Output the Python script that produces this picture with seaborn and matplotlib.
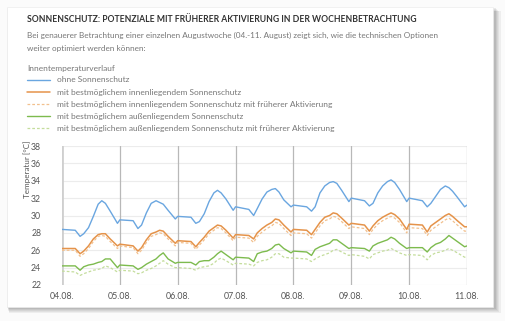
import numpy as np
import pandas as pd
import seaborn as sns
import matplotlib
matplotlib.use("Agg")
import matplotlib.pyplot as plt
from matplotlib.patches import Rectangle

# ---------------- data ----------------
day_labels = ["04.08.", "05.08.", "06.08.", "07.08.", "08.08.", "09.08.", "10.08.", "11.08."]
hours_of_day = [0, 5.5, 7.5, 9, 11, 13, 15, 16.5, 18, 20, 23]
n_days = 7
time_days = [d + h / 24 for d in range(n_days) for h in hours_of_day] + [7.0]

ohne = [28.4, 28.3, 27.6, 27.9, 28.6, 29.9, 31.3, 31.7, 31.4, 30.5, 29.1,
        29.5, 29.4, 28.5, 28.9, 30.3, 31.4, 31.7, 31.5, 31.3, 30.6, 29.6,
        29.9, 29.8, 29.1, 29.3, 30.2, 31.6, 32.6, 32.9, 32.6, 31.9, 30.6,
        31.0, 30.7, 30.0, 30.8, 31.9, 32.7, 33.0, 33.1, 32.7, 31.8, 31.0,
        31.2, 31.0, 30.5, 31.0, 32.6, 33.4, 33.8, 33.9, 33.7, 32.9, 31.6,
        32.0, 31.7, 31.1, 31.4, 32.6, 33.4, 33.9, 34.1, 33.8, 33.0, 31.6,
        32.0, 31.7, 31.0, 31.4, 32.2, 33.0, 33.4, 33.2, 32.8, 32.1, 31.0,
        31.2]

innen = [26.2, 26.2, 25.6, 25.9, 26.5, 27.3, 27.8, 27.9, 27.9, 27.3, 26.5,
         26.7, 26.5, 25.9, 26.3, 27.2, 27.9, 28.1, 28.3, 28.2, 27.6, 26.8,
         27.1, 27.0, 26.4, 26.9, 27.5, 28.2, 28.6, 28.9, 28.8, 28.3, 27.4,
         27.8, 27.7, 27.3, 28.0, 28.5, 28.9, 29.2, 29.6, 29.5, 28.9, 28.1,
         28.4, 28.3, 27.8, 28.4, 29.2, 29.8, 30.0, 30.3, 30.2, 29.7, 28.9,
         29.1, 28.9, 28.2, 28.8, 29.4, 29.8, 30.1, 30.3, 30.1, 29.6, 28.4,
         29.0, 28.9, 28.1, 28.8, 29.2, 29.6, 30.0, 30.2, 29.9, 29.4, 28.7,
         28.7]

innen_frueh = [26.0, 26.0, 25.3, 25.6, 26.2, 27.0, 27.6, 27.7, 27.6, 27.0, 26.2,
               26.5, 26.3, 25.6, 26.0, 26.9, 27.6, 27.8, 28.0, 27.9, 27.3, 26.5,
               26.9, 26.8, 26.1, 26.6, 27.2, 27.9, 28.3, 28.6, 28.5, 28.0, 27.1,
               27.5, 27.4, 26.9, 27.6, 28.1, 28.5, 28.8, 29.2, 29.1, 28.5, 27.7,
               28.0, 27.9, 27.4, 28.0, 28.8, 29.4, 29.6, 29.9, 29.8, 29.3, 28.5,
               28.7, 28.5, 27.8, 28.4, 29.0, 29.4, 29.7, 29.9, 29.7, 29.2, 28.0,
               28.6, 28.5, 27.7, 28.3, 28.7, 29.1, 29.5, 29.7, 29.4, 28.9, 28.2,
               28.2]

aussen = [24.2, 24.2, 23.7, 24.1, 24.3, 24.4, 24.6, 24.7, 25.0, 25.0, 24.0,
          24.3, 24.2, 23.8, 24.0, 24.4, 24.7, 25.0, 25.4, 25.7, 25.0, 24.5,
          24.6, 24.6, 24.3, 24.7, 24.8, 24.8, 25.2, 25.6, 25.9, 25.5, 24.9,
          25.2, 25.1, 24.7, 25.6, 25.8, 25.9, 26.2, 26.6, 26.7, 26.2, 25.7,
          25.9, 25.8, 25.4, 26.1, 26.4, 26.6, 26.8, 27.2, 27.2, 26.8, 26.2,
          26.3, 26.2, 25.9, 26.5, 26.8, 27.0, 27.2, 27.5, 27.3, 26.8, 26.2,
          26.3, 26.3, 25.8, 26.3, 26.7, 26.9, 27.3, 27.7, 27.4, 27.0, 26.4,
          26.5]

aussen_frueh = [23.6, 23.5, 23.1, 23.3, 23.5, 23.7, 23.8, 23.9, 24.2, 24.0, 23.5,
                23.7, 23.6, 23.3, 23.4, 23.7, 23.9, 24.2, 24.5, 24.8, 24.4, 24.0,
                24.0, 23.9, 23.7, 24.0, 24.1, 24.2, 24.5, 24.9, 25.1, 24.8, 24.3,
                24.5, 24.4, 24.2, 24.6, 24.8, 24.9, 25.2, 25.6, 25.6, 25.2, 25.1,
                25.1, 25.0, 24.7, 25.0, 25.3, 25.5, 25.7, 26.0, 26.1, 25.8, 25.4,
                25.5, 25.3, 25.0, 25.5, 25.7, 25.9, 26.0, 26.2, 26.0, 25.7, 25.4,
                25.5, 25.4, 24.9, 25.4, 25.7, 25.8, 26.0, 26.2, 26.0, 25.7, 25.2,
                25.2]

series_names = [
    "ohne Sonnenschutz",
    "mit bestmöglichem innenliegendem Sonnenschutz",
    "mit bestmöglichem innenliegendem Sonnenschutz mit früherer Aktivierung",
    "mit bestmöglichem außenliegendem Sonnenschutz",
    "mit bestmöglichem außenliegendem Sonnenschutz mit früherer Aktivierung",
]
series_values = [ohne, innen, innen_frueh, aussen, aussen_frueh]

# ---------------- style ----------------
sns.set_theme(style="white")
plt.rcParams["font.family"] = ["Lato", "DejaVu Sans"]

colors = ["#6aa6e0", "#e5934a", "#f2c08e", "#7dbb4e", "#c4dd9c"]
styles = ["-", "-", (0, (2.2, 1.6)), "-", (0, (2.2, 1.6))]
widths = [1.0, 1.1, 0.9, 1.0, 0.9]

W, H = 506, 321
fig = plt.figure(figsize=(W / 100, H / 100), dpi=100)
fig.patch.set_facecolor("#fbfbfb")

# card with soft shadow
cx0, cy0, cx1, cy1 = 7, 7, 493, 307
for i, a in enumerate([0.05, 0.05, 0.05, 0.06, 0.07, 0.08]):
    off = 6 - i
    fig.add_artist(Rectangle(((cx0 + off * 0.3) / W, 1 - (cy1 + off) / H),
                             (cx1 - cx0 + off) / W, (cy1 - cy0 + off * 0.3) / H,
                             transform=fig.transFigure, facecolor="#000000",
                             alpha=a, edgecolor="none", zorder=0))
fig.add_artist(Rectangle((cx0 / W, 1 - cy1 / H), (cx1 - cx0) / W, (cy1 - cy0) / H,
                         transform=fig.transFigure, facecolor="white",
                         edgecolor="#ededed", linewidth=0.5, zorder=1))

# texts
fig.text(27 / W, 1 - 20 / H, "SONNENSCHUTZ: POTENZIALE MIT FRÜHERER AKTIVIERUNG IN DER WOCHENBETRACHTUNG",
         fontsize=6.25, fontweight="bold", color="#333333", va="center", ha="left", zorder=3)
fig.text(27 / W, 1 - 35 / H,
         "Bei genauerer Betrachtung einer einzelnen Augustwoche (04.-11. August) zeigt sich, wie die technischen Optionen",
         fontsize=5.9, color="#777777", va="center", ha="left", zorder=3)
fig.text(27 / W, 1 - 48 / H, "weiter optimiert werden können:",
         fontsize=5.9, color="#777777", va="center", ha="left", zorder=3)

# axes
ax_l, ax_r, ax_t, ax_b = 62, 467, 146, 285
ax = fig.add_axes([ax_l / W, 1 - ax_b / H, (ax_r - ax_l) / W, (ax_b - ax_t) / H])
ax.set_facecolor("none")
ax.set_zorder(3)

df = pd.DataFrame({"t": time_days})
for name, vals in zip(series_names, series_values):
    df[name] = vals
long = df.melt(id_vars="t", var_name="Serie", value_name="Temperatur")

for name, c, ls, lw in zip(series_names, colors, styles, widths):
    sub = long[long["Serie"] == name]
    sns.lineplot(data=sub, x="t", y="Temperatur", ax=ax, color=c, linestyle=ls,
                 linewidth=lw, label=name, legend=False, zorder=4)

ax.set_xlim(0, 7)
ax.set_ylim(22, 38)
yticks = list(range(22, 39, 2))
ax.set_yticks(yticks)
ax.set_yticklabels([str(v) for v in yticks])
ax.set_xticks(range(8))
ax.set_xticklabels(day_labels)
for y in yticks:
    ax.axhline(y, color="#ececec", linewidth=0.8, zorder=1)
for d in range(8):
    ax.axvline(d, color="#cfcfcf" if d == 0 else "#b8b8b8",
               linewidth=2.0 if d == 0 else 0.9, zorder=2)
for s in ax.spines.values():
    s.set_visible(False)
ax.tick_params(axis="both", length=0, labelsize=6.3, labelcolor="#555555")
ax.tick_params(axis="y", pad=15)
ax.tick_params(axis="x", pad=5)
ax.set_xlabel("")
ax.set_ylabel("")
fig.text(27 / W, 1 - 141 / H, "Temperatur [°C]", rotation=90, fontsize=5.8,
         color="#555555", va="top", ha="center", zorder=3)

# legend
handles = ax.get_lines()[:5]
leg = fig.legend(handles=handles, labels=series_names, loc="upper left",
                 bbox_to_anchor=(27 / W, 1 - 64.5 / H), frameon=False,
                 title="Innentemperaturverlauf", fontsize=6.0,
                 title_fontproperties={"size": 6.0, "weight": "normal"},
                 handlelength=2.8, handletextpad=0.85, labelspacing=0.6,
                 borderaxespad=0, borderpad=0)
leg._legend_box.align = "left"
leg.get_title().set_color("#777777")
for t in leg.get_texts():
    t.set_color("#777777")
leg.set_zorder(5)

fig.savefig("out.png", dpi=100, facecolor=fig.get_facecolor())
